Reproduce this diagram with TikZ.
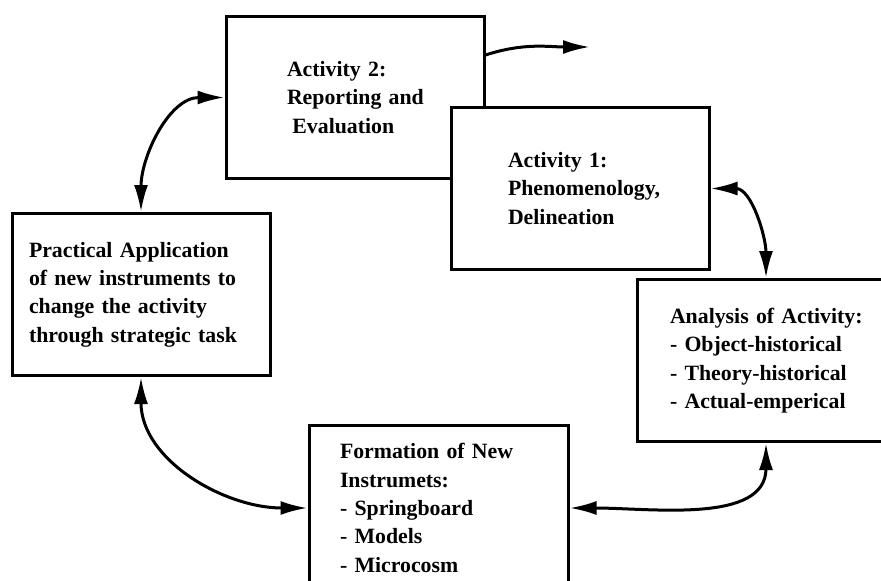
\documentclass[tikz,border=0pt]{standalone}
\usepackage{fontspec}
\setmainfont{Liberation Serif}
\usetikzlibrary{arrows.meta}
\hyphenpenalty=10000

\begin{document}
\begin{tikzpicture}[x=1pt,y=-1pt,
        box/.style={draw,line width=3pt,fill=white,minimum height=162pt,align=left,
            font=\fontsize{21.8}{28.3}\selectfont\bfseries},
        onearr/.style={line width=3pt,-{Latex[length=27pt,width=14pt]}},
        twoarr/.style={line width=3pt,{Latex[length=27pt,width=14pt]}-{Latex[length=27pt,width=14pt]}}]

            \clip (0,0) rectangle (881,581);

            \node (act2) at (355,97.5) [box,text width=136pt,inner xsep=61pt]
                {Activity~2:\\Reporting~and\\\hspace*{.25em}Evaluation};
            \node (act1) at (580,188.5) [box,text width=144pt,inner xsep=57pt]
                {Activity~1:\\Phenomenology,\\Delineation};
            \node (practice) at (141,294.5) [box,text width=224pt,inner xsep=17pt]
                {Practical Application\\of new instruments to\\change the activity\\through strategic task};
            \node (analysis) at (766,360.5) [box,text width=192pt,inner xsep=33pt]
                {Analysis~of~Activity:\\- Object-historical\\- Theory-historical\\- Actual-emperical};
            \node (formation) at (438.5,508) [box,text width=197pt,inner xsep=31pt,minimum height=166pt]
                {Formation of New\\Instrumets:\\- Springboard\\- Models\\- Microcosm};

            \coordinate (tip) at (590,47);

            \draw [onearr] ([yshift=-40pt]act2.north east) to[out=18,in=180] (tip);
            \draw [twoarr] (practice.north) to[out=90,in=180] (act2.west);
            \draw [twoarr] (act1.east) to[out=0,in=90] (analysis.north);
            \draw [twoarr] (practice.south) to[out=-90,in=180] (formation.west);
            \draw [twoarr] (analysis.south) to[out=-90,in=0] (formation.east);

        \end{tikzpicture}
\end{document}
